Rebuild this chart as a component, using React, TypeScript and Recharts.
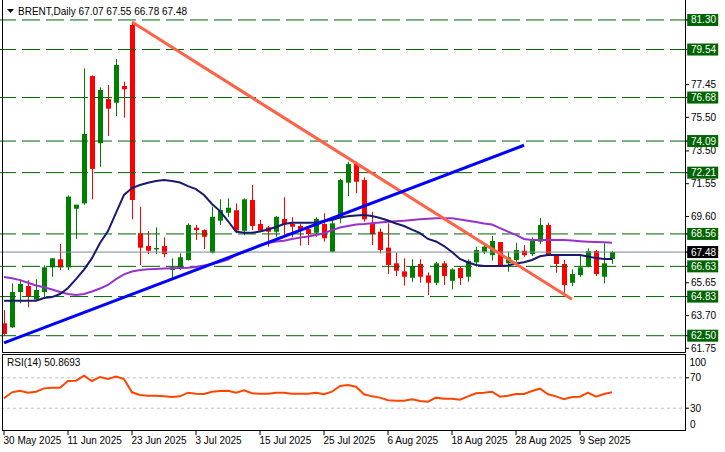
import React from 'react';
import { ComposedChart, Bar, Line, XAxis, YAxis, ReferenceLine } from 'recharts';

const FONT = '"Liberation Sans", Arial, sans-serif';

// daily candles, 30 May 2025 .. 15 Sep 2025
const opens = [
  63.24, 63.0, 65.1, 65.46, 64.66, 65.1, 66.57, 67.05, 66.57, 70.06,
  70.38, 77.96, 73.96, 76.59, 76.37, 77.37, 81.0, 68.6, 67.84, 67.64,
  67.84, 66.41, 66.61, 67.01, 68.93, 68.79, 67.44, 69.35, 69.82, 69.97,
  68.75, 70.58, 69.15, 68.95, 68.69, 69.45, 69.15, 69.03, 68.85, 68.63,
  69.15, 67.5, 69.49, 71.61, 72.72, 71.77, 69.15, 68.69, 67.74, 66.81,
  66.33, 65.95, 66.77, 66.09, 65.65, 66.81, 65.77, 66.53, 66.01, 66.87,
  67.5, 67.3, 68.08, 66.81, 67.01, 67.56, 67.36, 68.1, 69.09, 67.3,
  66.77, 65.65, 66.11, 66.65, 67.54, 66.01, 67.07,
];
const highs = [
  64.03, 65.62, 65.86, 65.81, 65.86, 66.69, 67.11, 67.96, 70.85, 70.3,
  78.42, 78.0, 77.29, 77.43, 78.98, 77.63, 81.2, 70.18, 68.73, 68.95,
  68.36, 67.11, 67.4, 69.19, 69.09, 68.83, 70.18, 70.62, 70.68, 70.38,
  70.68, 71.47, 69.39, 69.03, 69.63, 70.74, 69.55, 69.15, 68.99, 69.55,
  69.79, 69.39, 71.85, 72.86, 72.86, 71.93, 69.88, 68.89, 69.19, 67.44,
  67.11, 67.05, 67.05, 66.27, 66.9, 66.96, 66.51, 66.61, 67.05, 67.8,
  67.9, 68.44, 68.08, 67.5, 68.04, 67.9, 68.36, 69.51, 69.23, 67.3,
  67.01, 66.45, 67.3, 67.7, 67.6, 68.0, 67.55,
];
const lows = [
  62.48, 62.96, 64.43, 64.19, 64.58, 64.78, 66.01, 66.41, 66.41, 68.27,
  70.3, 70.62, 72.56, 74.39, 75.58, 75.48, 69.43, 66.71, 67.36, 67.36,
  67.17, 65.89, 66.41, 66.97, 68.2, 67.66, 67.4, 69.09, 69.58, 68.6,
  68.49, 68.79, 68.73, 67.8, 68.39, 68.36, 68.36, 67.86, 67.9, 68.39,
  68.1, 67.5, 69.19, 70.82, 70.98, 69.29, 67.9, 67.4, 66.17, 66.05,
  65.48, 65.71, 65.65, 64.92, 65.52, 65.52, 65.26, 65.52, 65.71, 66.61,
  67.36, 66.97, 66.65, 66.31, 66.9, 67.2, 67.24, 67.96, 67.3, 66.25,
  65.06, 65.46, 66.01, 66.57, 66.05, 65.62, 66.78,
];
const closes = [
  62.6, 65.1, 65.58, 64.82, 65.22, 66.57, 67.11, 66.57, 70.78, 70.3,
  74.51, 72.43, 77.13, 76.02, 78.62, 77.17, 70.58, 67.74, 67.56, 67.72,
  67.36, 66.57, 67.17, 69.09, 68.79, 68.39, 69.58, 69.98, 70.12, 68.77,
  70.62, 69.03, 68.75, 68.69, 69.58, 69.15, 68.99, 68.79, 68.55, 69.45,
  68.3, 69.19, 71.77, 72.72, 71.67, 69.43, 68.55, 67.6, 66.71, 66.37,
  66.01, 66.65, 66.01, 65.65, 66.81, 66.05, 66.45, 65.93, 66.96, 67.6,
  67.8, 68.14, 66.71, 67.17, 67.6, 67.3, 68.16, 69.09, 67.3, 66.77,
  65.52, 66.17, 66.57, 67.54, 66.17, 66.81, 67.48,
];
// moving averages as drawn on the chart
const maFast = [
  64.58, 64.58, 64.58, 64.58, 64.58, 64.74, 64.8, 64.98, 65.34, 65.87,
  66.44, 67.12, 68.02, 68.73, 69.81, 70.88, 71.29, 71.47, 71.61, 71.71,
  71.77, 71.71, 71.62, 71.41, 71.23, 70.88, 70.34, 69.92, 69.33, 68.7,
  68.63, 68.63, 68.7, 68.82, 68.97, 69.15, 69.23, 69.23, 69.23, 69.24,
  69.33, 69.39, 69.54, 69.61, 69.66, 69.69, 69.63, 69.51, 69.36, 69.18,
  69.03, 68.82, 68.61, 68.26, 68.11, 67.84, 67.48, 67.07, 66.86, 66.71,
  66.65, 66.65, 66.65, 66.68, 66.8, 66.87, 67.01, 67.23, 67.3, 67.3,
  67.3, 67.3, 67.3, 67.21, 67.12, 67.07, 67.07,
];
const maSlow = [
  65.99, 65.92, 65.81, 65.65, 65.49, 65.39, 65.25, 65.1, 64.98, 64.92,
  64.98, 65.13, 65.31, 65.52, 65.87, 66.15, 66.32, 66.41, 66.45, 66.47,
  66.5, 66.52, 66.53, 66.55, 66.59, 66.68, 66.77, 66.89, 67.04, 67.3,
  67.48, 67.66, 67.9, 68.02, 68.11, 68.16, 68.26, 68.34, 68.41, 68.5,
  68.6, 68.79, 68.94, 69.03, 69.12, 69.15, 69.2, 69.24, 69.29, 69.32,
  69.35, 69.39, 69.43, 69.46, 69.49, 69.49, 69.49, 69.42, 69.35, 69.27,
  69.18, 69.12, 68.91, 68.7, 68.5, 68.26, 68.2, 68.2, 68.2, 68.2,
  68.2, 68.17, 68.13, 68.1, 68.08, 68.06, 68.04,
];
const rsi = [
  43.0, 50.9, 53.0, 50.4, 51.7, 56.1, 57.0, 57.0, 65.8, 66.2,
  72.8, 65.8, 71.1, 68.4, 71.5, 68.4, 50.9, 47.4, 46.5, 46.5,
  45.6, 44.7, 45.6, 50.4, 49.1, 48.7, 51.7, 52.6, 53.0, 50.4,
  53.5, 49.6, 49.1, 49.1, 50.4, 50.4, 49.1, 49.1, 49.1, 50.4,
  48.3, 51.7, 59.2, 60.5, 58.3, 48.3, 45.6, 43.9, 40.4, 39.9,
  39.9, 41.7, 39.5, 38.6, 43.9, 42.5, 42.5, 41.2, 45.6, 49.6,
  50.4, 51.7, 45.2, 46.5, 48.7, 48.7, 52.6, 55.7, 48.3, 45.6,
  41.7, 44.7, 45.2, 50.4, 45.2, 48.7, 50.87,
];

const dateTicks = [0, 8, 16, 24, 32, 40, 48, 56, 64, 72];
const dateLabels = [
  '30 May 2025', '11 Jun 2025', '23 Jun 2025', '3 Jul 2025', '15 Jul 2025',
  '25 Jul 2025', '6 Aug 2025', '18 Aug 2025', '28 Aug 2025', '9 Sep 2025',
];

const levels = [81.3, 79.54, 76.68, 74.09, 72.21, 68.56, 66.63, 64.83, 62.5];
const scaleTicks = [61.75, 63.7, 65.65, 69.6, 71.55, 73.5, 75.5, 77.45];
const lastPrice = 67.48;
const rsiLevels = [30, 70];

// trend lines: [bar index, price]
const downTrend = [{ x: 16, y: 81.18 }, { x: 71, y: 64.67 }];
const upTrend = [{ x: 0, y: 62.07 }, { x: 65, y: 73.84 }];

const SLOTS = 86;
const data = Array.from({ length: SLOTS }, (_, i) =>
  i < opens.length
    ? { i, open: opens[i], high: highs[i], low: lows[i], close: closes[i], maFast: maFast[i], maSlow: maSlow[i], rsi: rsi[i] }
    : { i }
);

const Candle = (props: any) => {
  const { x, y, width, height, payload } = props;
  if (!payload || payload.open == null) return null;
  const { open, high, low, close } = payload;
  const top = Math.min(y, y + height);
  const h = Math.abs(height);
  const k = high > low ? h / (high - low) : 0;
  const py = (v: number) => top + (high - v) * k;
  const color = close >= open ? '#008000' : '#FF0000';
  const bTop = py(Math.max(open, close));
  const bBot = py(Math.min(open, close));
  const cx = x + width / 2;
  return (
    <g>
      <line x1={cx} x2={cx} y1={top} y2={top + h} stroke={color} strokeWidth={1} />
      <rect x={x} y={bTop} width={width} height={Math.max(1, bBot - bTop)} fill={color} />
    </g>
  );
};

const PriceTick = (props: any) => {
  const { x, y, payload } = props;
  const v = payload.value;
  const fx = x - 2;
  const isLevel = levels.includes(v);
  const isLast = v === lastPrice;
  return (
    <g>
      <line x1={fx} x2={fx + 3} y1={y} y2={y} stroke="#000" />
      {(isLevel || isLast) && (
        <rect x={fx + 1.2} y={y - 6} width={31} height={12} fill={isLast ? '#000' : '#006400'} />
      )}
      <text x={fx + 5} y={y + 3.5} fontSize={10} fontFamily={FONT} fill={isLevel || isLast ? '#fff' : '#000'}>
        {v.toFixed(2)}
      </text>
    </g>
  );
};

const RsiTick = (props: any) => {
  const { x, y, payload } = props;
  const fx = x - 2;
  return (
    <g>
      <line x1={fx} x2={fx + 3} y1={y} y2={y} stroke="#000" />
      <text x={fx + 4} y={y + 3.5} fontSize={10} fontFamily={FONT} fill="#000">
        {payload.value}
      </text>
    </g>
  );
};

// the 0 label sits just inside the bottom edge of the panel
const BoundLabel = (props: any) => {
  const { viewBox, bound } = props;
  if (!viewBox) return null;
  return (
    <text x={viewBox.x + viewBox.width + 2} y={viewBox.y - 3.5} fontSize={10} fontFamily={FONT} fill="#000">
      {bound}
    </text>
  );
};

const DateTick = (props: any) => {
  const { x, y, payload } = props;
  const k = dateTicks.indexOf(payload.value);
  return (
    <text x={x - 0.5} y={y + 9} fontSize={10} fontFamily={FONT} fill="#000">
      {k >= 0 ? dateLabels[k] : ''}
    </text>
  );
};

const App: React.FC = () => {
  return (
    <div style={{ position: 'absolute', left: 0, top: 0, width: 725, height: 452, overflow: 'hidden', background: '#fff' }}>
      <div style={{ position: 'absolute', left: -0.5, top: 0 }}>
        <ComposedChart width={726} height={358} data={data} margin={{ top: 3, right: 0, bottom: 6, left: 0 }}>
          <XAxis dataKey="i" type="category" scale="band" hide />
          <YAxis
            orientation="right"
            width={38}
            type="number"
            domain={[61.53, 82.31]}
            allowDataOverflow
            ticks={[...scaleTicks, ...levels, lastPrice].sort((a, b) => a - b)}
            interval={0}
            minTickGap={0}
            axisLine={false}
            tickLine={false}
            tickSize={0}
            tickMargin={0}
            tick={<PriceTick />}
          />
          {levels.map((v) => (
            <ReferenceLine key={v} y={v} stroke="#006400" strokeDasharray="18 6" />
          ))}
          <ReferenceLine y={lastPrice} stroke="#778899" />
          <Bar
            dataKey={(d: any) => (d.high == null ? null : [d.low, d.high])}
            barSize={5}
            shape={<Candle />}
            isAnimationActive={false}
          />
          <Line dataKey="maSlow" stroke="#9932CC" strokeWidth={2} dot={false} isAnimationActive={false} />
          <Line dataKey="maFast" stroke="#191970" strokeWidth={2} dot={false} isAnimationActive={false} />
          <ReferenceLine segment={downTrend} stroke="#FF6347" strokeWidth={3} />
          <ReferenceLine segment={upTrend} stroke="#0000FF" strokeWidth={3} />
        </ComposedChart>
      </div>
      <div style={{ position: 'absolute', left: -0.5, top: 354 }}>
        <ComposedChart width={726} height={98} data={data} margin={{ top: 1, right: 0, bottom: 0, left: 0 }}>
          <XAxis
            dataKey="i"
            type="category"
            scale="band"
            height={21}
            ticks={dateTicks}
            interval={0}
            axisLine={false}
            tickLine={{ stroke: '#000' }}
            tickSize={4}
            tickMargin={0}
            tick={<DateTick />}
          />
          <YAxis
            orientation="right"
            width={38}
            type="number"
            domain={[0, 100]}
            allowDataOverflow
            ticks={rsiLevels}
            interval={0}
            minTickGap={0}
            axisLine={false}
            tickLine={false}
            tickSize={0}
            tickMargin={0}
            tick={<RsiTick />}
          />
          {rsiLevels.map((v) => (
            <ReferenceLine key={v} y={v} stroke="#C0C0C0" strokeDasharray="3 3" />
          ))}
          <ReferenceLine y={0} stroke="none" ifOverflow="visible" label={<BoundLabel bound={0} />} />
          <Bar dataKey="none" isAnimationActive={false} />
          <Line dataKey="rsi" stroke="#FF4500" strokeWidth={2} dot={false} isAnimationActive={false} />
        </ComposedChart>
      </div>
      <svg width={725} height={452} style={{ position: 'absolute', left: 0, top: 0, pointerEvents: 'none' }}>
        <g stroke="#000" strokeWidth={1} fill="none">
          <polyline points="2.5,0 2.5,352.5 685.5,352.5 685.5,0" />
          <rect x={2.5} y={354.5} width={683} height={76} />
        </g>
        <polygon points="7,9 14,9 10.5,13" fill="#000" />
        <text x={18} y={14.5} fontSize={10} fontFamily={FONT} fill="#000">
          BRENT,Daily 67.07 67.55 66.78 67.48
        </text>
        <text x={7} y={366} fontSize={10} fontFamily={FONT} fill="#000">
          RSI(14) 50.8693
        </text>
        <text x={689.5} y={365.5} fontSize={10} fontFamily={FONT} fill="#000">
          100
        </text>
      </svg>
    </div>
  );
};

export default App;
